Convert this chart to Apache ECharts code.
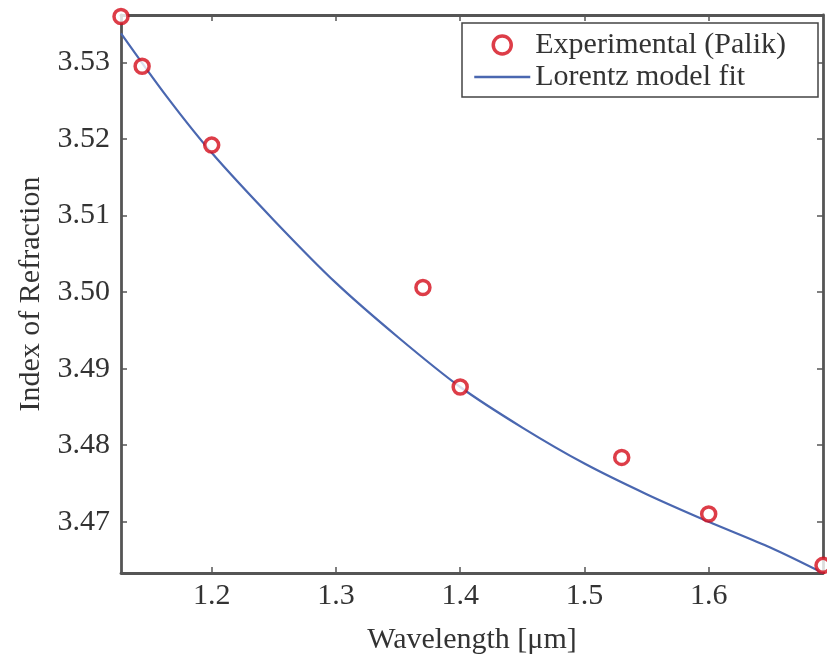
<!DOCTYPE html>
<html>
<head>
<meta charset="utf-8">
<script src="https://cdn.jsdelivr.net/npm/echarts@6/dist/echarts.min.js"></script>
<style>
  html, body { margin: 0; padding: 0; background: #fff; }
  #chart { width: 827px; height: 664px; }
</style>
</head>
<body>
<div id="chart"></div>
<script>
  // values
  const experimental = [
    [1.127, 3.5360], [1.144, 3.5295], [1.2, 3.5192], [1.37, 3.5006],
    [1.4, 3.4876], [1.53, 3.4784], [1.6, 3.4710], [1.692, 3.4643]
  ];
  const lorentzFit = [
    [1.127, 3.5338], [1.164, 3.5255], [1.2, 3.5182], [1.25, 3.5094],
    [1.3, 3.5012], [1.35, 3.4941], [1.4, 3.4876], [1.45, 3.4823],
    [1.5, 3.4776], [1.55, 3.4736], [1.6, 3.4700], [1.65, 3.4666],
    [1.692, 3.4633]
  ];
  const xTicks = [1.2, 1.3, 1.4, 1.5, 1.6];
  const yTicks = [3.47, 3.48, 3.49, 3.50, 3.51, 3.52, 3.53];

  const FONT = "Liberation Serif";
  const FONT_SIZE = 30;
  const AXIS_COLOR = "#555";
  const TEXT_COLOR = "#333";
  const RED = "#d40d1a";
  const BLUE = "#4a67b0";

  function tickStyle(values) {
    return { show: true, inside: true, length: 6, customValues: values, lineStyle: { color: AXIS_COLOR, width: 1.5 } };
  }

  function frameAxis(extra) {
    return Object.assign({
      type: "value",
      axisLine: { show: true, onZero: false, lineStyle: { color: AXIS_COLOR, width: 2.8 } },
      splitLine: { show: false }
    }, extra);
  }

  const chart = echarts.init(document.getElementById("chart"), null, { renderer: "canvas" });
  chart.setOption({
    animation: false,
    textStyle: { fontFamily: FONT },
    grid: { left: 121, right: 4, top: 15, bottom: 91, containLabel: false, outerBoundsMode: "none" },
    legend: {
      orient: "vertical",
      left: 462,
      top: 23,
      padding: [7, 32, 5, 11],
      itemGap: 2,
      itemWidth: 56,
      itemHeight: 18,
      borderColor: "#444",
      borderWidth: 1.5,
      backgroundColor: "#fff",
      textStyle: { fontFamily: FONT, fontSize: FONT_SIZE, lineHeight: 30, color: TEXT_COLOR },
      data: [
        { name: "Experimental (Palik)", itemStyle: { color: "#fff", borderColor: RED, borderWidth: 3.5 } },
        { name: "Lorentz model fit", itemStyle: { opacity: 0 }, lineStyle: { width: 2.5 } }
      ]
    },
    xAxis: [
      frameAxis({
        min: 1.127, max: 1.692,
        position: "bottom",
        name: "Wavelength [μm]",
        nameLocation: "middle",
        nameGap: 52,
        nameTextStyle: { fontFamily: FONT, fontSize: FONT_SIZE, color: TEXT_COLOR },
        axisTick: tickStyle(xTicks),
        axisLabel: {
          customValues: xTicks, margin: 8,
          fontFamily: FONT, fontSize: FONT_SIZE, color: TEXT_COLOR,
          formatter: (v) => v.toFixed(1)
        }
      }),
      frameAxis({
        min: 1.127, max: 1.692,
        position: "top",
        axisTick: tickStyle(xTicks),
        axisLabel: { show: false }
      })
    ],
    yAxis: [
      frameAxis({
        min: 3.4633, max: 3.5362,
        position: "left",
        name: "Index of Refraction",
        nameLocation: "middle",
        nameGap: 75,
        nameTextStyle: { fontFamily: FONT, fontSize: FONT_SIZE, color: TEXT_COLOR },
        axisTick: tickStyle(yTicks),
        axisLabel: {
          customValues: yTicks, margin: 11,
          fontFamily: FONT, fontSize: FONT_SIZE, color: TEXT_COLOR,
          formatter: (v) => v.toFixed(2)
        }
      }),
      frameAxis({
        min: 3.4633, max: 3.5362,
        position: "right",
        axisTick: tickStyle(yTicks),
        axisLabel: { show: false }
      })
    ],
    series: [
      {
        name: "Lorentz model fit",
        type: "line",
        data: lorentzFit,
        smooth: 0.3,
        symbol: "none",
        clip: false,
        lineStyle: { color: BLUE, width: 2.2 },
        itemStyle: { color: BLUE },
        z: 2
      },
      {
        name: "Experimental (Palik)",
        type: "scatter",
        data: experimental,
        symbol: "circle",
        symbolSize: 14,
        clip: false,
        itemStyle: { color: "#fff", borderColor: RED, borderWidth: 3.5 },
        z: 3
      }
    ]
  });
</script>
</body>
</html>
